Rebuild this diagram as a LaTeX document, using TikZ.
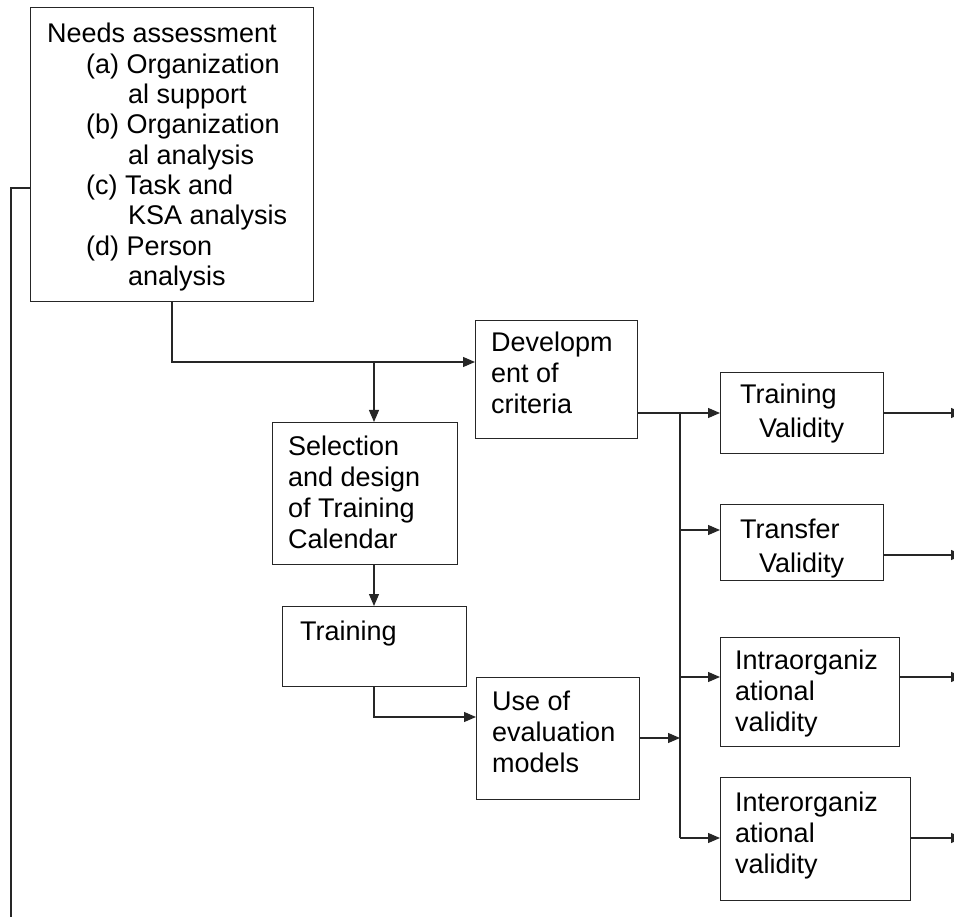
\documentclass[tikz,border=0pt]{standalone}
\usepackage{fontspec}
\setmainfont{Liberation Sans}
\usepackage{xcolor}
\colorlet{BoxLine}{black!85}
\usetikzlibrary{arrows.meta}
\tikzset{
  box/.style={draw=BoxLine, line width=1.2pt, rectangle, anchor=north west, inner sep=0pt},
  boxtext/.style={anchor=base west, inner sep=0pt, font=\fontsize{27}{31}\selectfont},
  link/.style={draw=BoxLine, line width=1.2pt},
  flow/.style={link, -{Triangle[length=12pt,width=10pt]}},
}
\newcommand{\lines}[1]{\begin{tabular}[t]{@{}l@{}}#1\end{tabular}}

\begin{document}
\begin{tikzpicture}[x=1pt, y=-1pt]
\useasboundingbox (0,0) rectangle (954,917);

% boxes
\node[box, minimum width=283pt, minimum height=294pt] (needs) at (30,7) {};
\node[box, minimum width=162pt, minimum height=118pt] (dev) at (475,320) {};
\node[box, minimum width=185pt, minimum height=142pt] (sel) at (272,422) {};
\node[box, minimum width=184pt, minimum height=80pt] (trn) at (282,606) {};
\node[box, minimum width=163pt, minimum height=122pt] (use) at (476,677) {};
\node[box, minimum width=163pt, minimum height=81pt] (trv) at (720,372) {};
\node[box, minimum width=163pt, minimum height=76pt] (tfv) at (720,504) {};
\node[box, minimum width=179pt, minimum height=109pt] (intra) at (720,637) {};
\node[box, minimum width=190pt, minimum height=123pt] (inter) at (720,777) {};

% texts
\node[boxtext, font=\fontsize{27}{30.3}\selectfont] (needs-text) at (47,43) {\lines{%
    Needs assessment\\
    \hspace*{39pt}(a) Organization\\
    \hspace*{81pt}al support\\
    \hspace*{39pt}(b) Organization\\
    \hspace*{81pt}al analysis\\
    \hspace*{39pt}(c) Task and\\
    \hspace*{81pt}KSA analysis\\
    \hspace*{39pt}(d) Person\\
    \hspace*{81pt}analysis}};
\node[boxtext] (dev-text) at (491,352) {\lines{Developm\\ent of\\criteria}};
\node[boxtext] (sel-text) at (288,456) {\lines{Selection\\and design\\of Training\\Calendar}};
\node[boxtext] (trn-text) at (300,640) {Training};
\node[boxtext] (use-text) at (492,710) {\lines{Use of\\evaluation\\models}};
\node[boxtext] (trv-text) at (740,404) {\lines{Training\\[3pt]\hspace*{19pt}Validity}};
\node[boxtext] (tfv-text) at (740,538) {\lines{Transfer\\[3pt]\hspace*{19pt}Validity}};
\node[boxtext] (intra-text) at (735,669) {\lines{Intraorganiz\\ational\\validity}};
\node[boxtext] (inter-text) at (735,811) {\lines{Interorganiz\\ational\\validity}};

% turning points
\coordinate (fb-turn) at (11,188);
\coordinate (fb-end) at (11,920);
\coordinate (split) at (172,362);
\coordinate (fork) at (374,362);
\coordinate (trn-turn) at (374,717);
\coordinate (bus-top) at (680,413);
\coordinate (tfv-in) at (680,530);
\coordinate (intra-in) at (680,677);
\coordinate (use-in) at (680,738);
\coordinate (bus-bottom) at (680,838);
\coordinate (trv-out) at (963,413);
\coordinate (tfv-out) at (963,555);
\coordinate (intra-out) at (963,677);
\coordinate (inter-out) at (963,838);

% connectors
\draw[link] (needs.west |- fb-turn) -- (fb-turn) -- (fb-end);
\draw[link] (needs.south -| split) -- (split) -- (fork);
\draw[flow] (fork) -- (dev.west |- fork);
\draw[flow] (fork) -- (sel.north -| fork);
\draw[flow] (sel.south -| fork) -- (trn.north -| fork);
\draw[flow] (trn.south -| trn-turn) -- (trn-turn) -- (use.west |- trn-turn);

\draw[flow] (dev.east |- bus-top) -- (trv.west |- bus-top);
\draw[link] (bus-top) -- (bus-bottom);
\draw[flow] (tfv-in) -- (tfv.west |- tfv-in);
\draw[flow] (intra-in) -- (intra.west |- intra-in);
\draw[flow] (bus-bottom) -- (inter.west |- bus-bottom);
\draw[flow] (use.east |- use-in) -- (use-in);

\draw[flow] (trv.east |- trv-out) -- (trv-out);
\draw[flow] (tfv.east |- tfv-out) -- (tfv-out);
\draw[flow] (intra.east |- intra-out) -- (intra-out);
\draw[flow] (inter.east |- inter-out) -- (inter-out);

\end{tikzpicture}
\end{document}
